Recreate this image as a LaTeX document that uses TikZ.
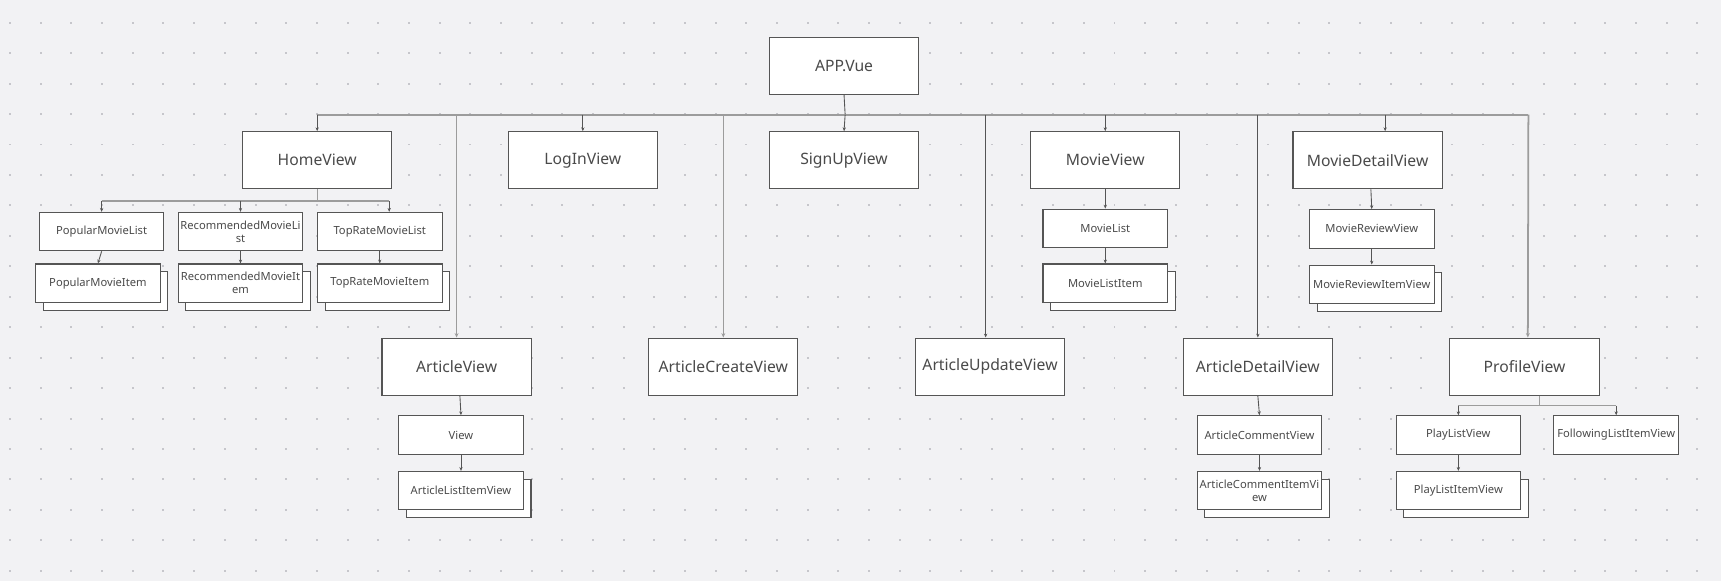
\documentclass[tikz,border=0pt]{standalone}
\usepackage{fontspec}
\setmainfont{Noto Sans}
\usetikzlibrary{shadows,arrows.meta}
\definecolor{bg}{HTML}{F2F2F4}
\definecolor{dotc}{HTML}{C6C6CB}
\definecolor{edge}{HTML}{555555}
\definecolor{busc}{HTML}{9C9C9C}
\definecolor{txt}{HTML}{4A4A4A}
\tikzset{
 big/.style={draw=edge, line width=1pt, fill=white, minimum width=136pt, minimum height=52pt, inner sep=0pt, text=txt, font=\fontsize{14.3}{16}\selectfont},
 small/.style={draw=edge, line width=1pt, fill=white, minimum width=113.5pt, minimum height=35pt, inner sep=0pt, text=txt, align=center, font=\fontsize{10.2}{11.8}\selectfont},
 stackbox/.style={small, copy shadow={shadow xshift=7pt, shadow yshift=-7pt}},
 thinline/.style={draw=edge, line width=0.8pt},
 arr/.style={draw=edge, line width=0.8pt, -{Stealth[length=3.5pt,width=3pt]}},
 gline/.style={draw=busc, line width=1.8pt},
 gline2/.style={draw=busc, line width=1.2pt},
 garr/.style={draw=busc, line width=1.6pt, -{Stealth[length=4pt,width=3.5pt]}},
 garr2/.style={draw=busc, line width=1.2pt, -{Stealth[length=4pt,width=3.5pt]}},
}
\begin{document}
\begin{tikzpicture}[x=1pt,y=-1pt]
\useasboundingbox[fill=bg] (0,0) rectangle (1568,529);
% dot grid
\foreach \i in {0,...,55}{
  \foreach \j in {0,...,18}{
    \fill[dotc] (9.2+27.95*\i-0.9, 20.7+27.74*\j-0.9) rectangle ++(1.8,1.8);
  }
}
% top
\node[big] (app) at (769,60) {APP.Vue};
% first row
\node[big] (home) at (289,146) {HomeView};
\node[big] (login) at (531,146) {LogInView};
\node[big] (signup) at (769,146) {SignUpView};
\node[big] (movie) at (1007,146) {MovieView};
\node[big] (moviedetail) at (1246,146) {MovieDetailView};
% second row
\node[big] (article) at (416,334) {ArticleView};
\node[big] (articlecreate) at (659,334) {ArticleCreateView};
\node[big] (articleupdate) at (902,334) {ArticleUpdateView};
\node[big] (articledetail) at (1146,334) {ArticleDetailView};
\node[big] (profile) at (1389,334) {ProfileView};
% home children
\node[small] (pml) at (92.6,211) {PopularMovieList};
\node[small] (rml) at (219.1,211) {RecommendedMovieLi\\st};
\node[small] (trml) at (346,211) {TopRateMovieList};
\node[stackbox] (pmi) at (89.2,258) {PopularMovieItem};
\node[stackbox] (rmi) at (219.1,258) {RecommendedMovieIt\\em};
\node[stackbox] (trmi) at (346,258) {TopRateMovieItem};
% movie children
\node[small] (movielist) at (1007,208) {MovieList};
\node[stackbox] (movielistitem) at (1007,258) {MovieListItem};
\node[small] (moviereview) at (1249.8,208.5) {MovieReviewView};
\node[stackbox] (moviereviewitem) at (1249.8,259) {MovieReviewItemView};
% article children
\node[small] (view) at (420,396.3) {View};
\node[stackbox] (articlelistitem) at (420,447) {ArticleListItemView};
\node[small] (articlecomment) at (1147.5,396.3) {ArticleCommentView};
\node[stackbox] (articlecommentitem) at (1147.5,447) {ArticleCommentItemVi\\ew};
% profile children
\node[small] (playlist) at (1328.7,396.3) {PlayListView};
\node[small] (following) at (1472.5,396.3) {FollowingListItemView};
\node[stackbox] (playlistitem) at (1328.7,447) {PlayListItemView};

% main bus
\coordinate (busL) at (289,104.5);
\coordinate (busR) at (1392.5,104.5);
\coordinate (mdIn) at ([xshift=16pt]moviedetail.north);
\coordinate (auIn) at ([xshift=-4pt]articleupdate.north);
\coordinate (prIn) at ([xshift=3pt]profile.north);
\draw[thinline] (app.south) -- ([xshift=1pt]app.south |- busL);
\draw[gline] (busL) -- (busR);
\draw[arr] (busL) -- (home.north);
\draw[arr] (login.north |- busL) -- (login.north);
\draw[arr] ([xshift=1pt]signup.north |- busL) -- (signup.north);
\draw[arr] (movie.north |- busL) -- (movie.north);
\draw[arr] (mdIn |- busL) -- (mdIn);
\draw[garr] (article.north |- busL) -- (article.north);
\draw[garr2] (articlecreate.north |- busL) -- (articlecreate.north);
\draw[arr] (auIn |- busL) -- (auIn);
\draw[arr] (articledetail.north |- busL) -- (articledetail.north);
\draw[garr] (busR) -- (prIn);

% home sub-bus
\coordinate (hb) at (289,183);
\coordinate (trIn) at ([xshift=8.6pt]trml.north);
\draw[gline2] (home.south) -- (hb);
\draw[gline2] (pml.north |- hb) -- (trIn |- hb);
\draw[arr] (pml.north |- hb) -- (pml.north);
\draw[arr] (rml.north |- hb) -- (rml.north);
\draw[arr] (trIn |- hb) -- (trIn);

% profile sub-bus
\coordinate (pb) at (1402.5,369.6);
\draw[gline2] ([xshift=13.5pt]profile.south) -- (pb);
\draw[gline2] (playlist.north |- pb) -- (following.north |- pb);
\draw[arr] (playlist.north |- pb) -- (playlist.north);
\draw[arr] (following.north |- pb) -- (following.north);

% direct arrows
\draw[arr] (pml.south) -- (pmi.north);
\draw[arr] (rml.south) -- (rmi.north);
\draw[arr] (trml.south) -- (trmi.north);
\draw[arr] (movie.south) -- (movielist.north);
\draw[arr] (movielist.south) -- (movielistitem.north);
\draw[arr] ([xshift=3pt]moviedetail.south) -- (moviereview.north);
\draw[arr] (moviereview.south) -- (moviereviewitem.north);
\draw[arr] ([xshift=3pt]article.south) -- (view.north);
\draw[arr] (view.south) -- (articlelistitem.north);
\draw[arr] (articledetail.south) -- (articlecomment.north);
\draw[arr] (articlecomment.south) -- (articlecommentitem.north);
\draw[arr] (playlist.south) -- (playlistitem.north);
\end{tikzpicture}
\end{document}
